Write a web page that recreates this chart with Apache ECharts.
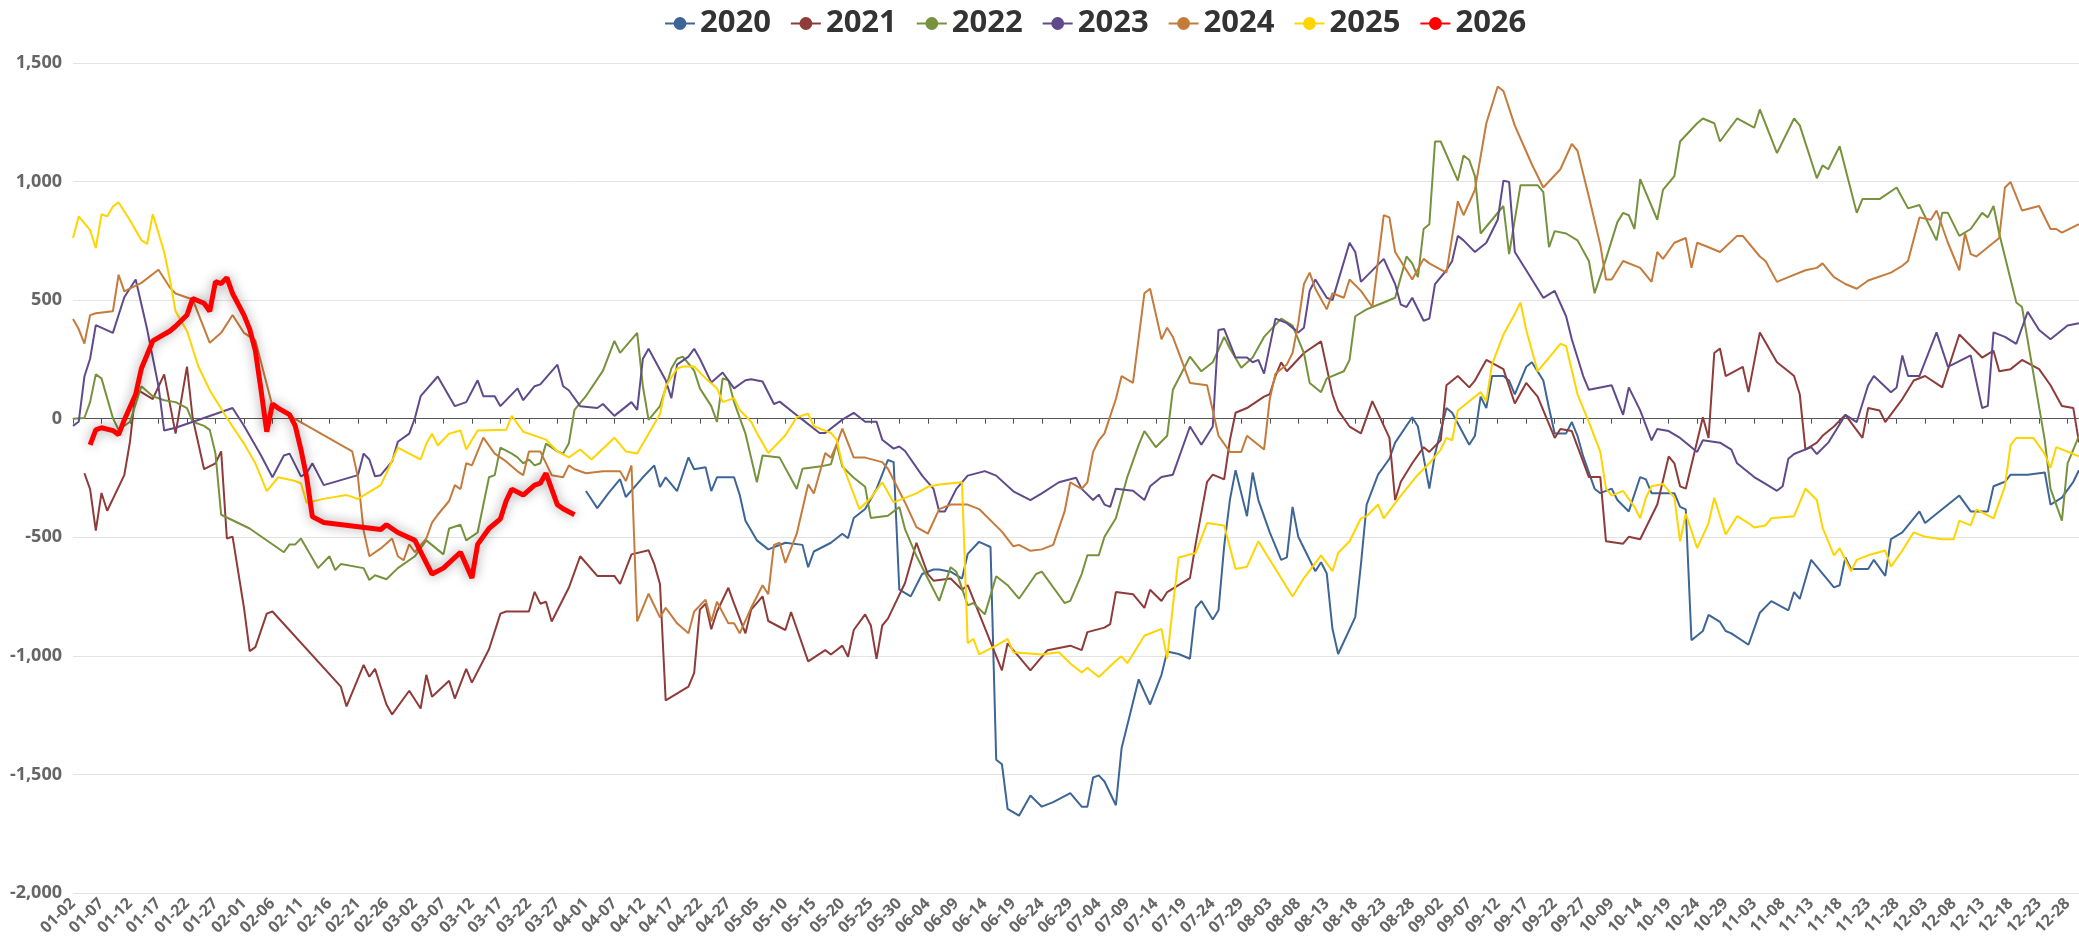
<!DOCTYPE html>
<html>
<head>
<meta charset="utf-8">
<script src="https://cdn.jsdelivr.net/npm/echarts@6/dist/echarts.min.js"></script>
<style>
  html, body { margin: 0; padding: 0; background: #fff; }
  #main { width: 2079px; height: 945px; }
</style>
</head>
<body>
<div id="main"></div>
<script>
// x axis: calendar days (mm-dd), holidays left out
const monthDays = [31, 29, 31, 30, 31, 30, 31, 31, 30, 31, 30, 30];
const skipDays = ['01-01', '04-04', '05-01', '05-02', '05-03',
  '10-01', '10-02', '10-03', '10-04', '10-05', '10-06', '10-07'];
const pad = n => (n < 10 ? '0' : '') + n;
const days = [];
monthDays.forEach((n, m) => {
  for (let d = 1; d <= n; d++) {
    const s = pad(m + 1) + '-' + pad(d);
    if (skipDays.indexOf(s) < 0) days.push(s);
  }
});

const yTicks = { min: -2000, max: 1500, step: 500 };
const years = ['2020', '2021', '2022', '2023', '2024', '2025', '2026'];
const colors = ['#3D6596', '#8E3B3A', '#76923C', '#5F4A8B', '#C47B3C', '#FFD400', '#FF0000'];

// each point: [position in days, value]
const y2020 = [[90,-305],[92,-377],[94,-313],[96,-255],[97,-330],[100,-247],[102,-197],[103,-288],[104,-247],[106,-305],[108,-163],[109,-213],[111,-205],[112,-305],[113,-247],[116,-247],[117,-322],[118,-430],[120,-513],[122,-551],[125,-523],[128,-532],[129,-626],[130,-560],[133,-523],[135,-485],[136,-504],[137,-419],[139,-381],[141,-296],[143,-174],[144,-183],[145,-721],[147,-749],[149,-655],[151,-636],[152,-636],[154,-645],[156,-674],[157,-570],[159,-519],[161,-541],[162,-1438],[163,-1457],[164,-1645],[166,-1674],[168,-1589],[170,-1636],[172,-1617],[175,-1579],[177,-1636],[178,-1636],[179,-1513],[180,-1504],[181,-1530],[183,-1630],[184,-1390],[186,-1196],[187,-1099],[189,-1205],[191,-1080],[192,-982],[194,-992],[196,-1012],[197,-798],[198,-769],[200,-847],[201,-808],[202,-537],[203,-343],[204,-217],[206,-411],[207,-227],[208,-343],[210,-479],[212,-595],[213,-585],[214,-372],[215,-498],[218,-643],[219,-605],[220,-653],[221,-886],[222,-992],[225,-837],[226,-614],[227,-362],[229,-236],[231,-169],[232,-101],[235,6],[236,-33],[238,-295],[239,-149],[241,45],[242,25],[245,-110],[246,-72],[247,93],[248,45],[249,180],[251,180],[252,161],[253,103],[255,219],[256,238],[258,161],[259,45],[260,-62],[262,-62],[263,-14],[264,-72],[265,-159],[267,-295],[268,-314],[270,-295],[271,-343],[273,-391],[275,-246],[276,-256],[277,-314],[281,-314],[282,-372],[283,-382],[284,-934],[286,-895],[287,-827],[289,-857],[290,-895],[291,-905],[294,-953],[296,-818],[298,-769],[301,-808],[302,-731],[303,-760],[305,-595],[309,-711],[310,-702],[311,-585],[312,-634],[315,-634],[316,-595],[318,-663],[319,-508],[321,-479],[322,-450],[324,-391],[325,-440],[327,-401],[331,-324],[333,-391],[336,-391],[337,-285],[339,-266],[340,-236],[343,-236],[346,-227],[347,-362],[349,-333],[351,-266],[352,-217]];

const y2021 = [[2,-230],[3,-297],[4,-472],[5,-313],[6,-388],[9,-238],[10,-97],[11,120],[12,112],[14,83],[16,187],[18,-63],[20,220],[21,3],[23,-213],[25,-188],[26,-138],[27,-505],[28,-497],[30,-797],[31,-980],[32,-963],[34,-822],[35,-813],[47,-1130],[48,-1213],[51,-1038],[52,-1088],[53,-1055],[55,-1205],[56,-1247],[59,-1147],[61,-1222],[62,-1080],[63,-1172],[66,-1105],[67,-1180],[69,-1055],[70,-1113],[73,-972],[75,-822],[76,-813],[80,-813],[81,-730],[82,-780],[83,-772],[84,-855],[87,-713],[89,-580],[92,-663],[95,-663],[96,-697],[98,-572],[101,-555],[102,-613],[103,-697],[104,-1188],[108,-1130],[109,-1072],[110,-805],[111,-780],[112,-888],[113,-813],[115,-713],[116,-780],[118,-905],[119,-805],[121,-749],[122,-853],[125,-891],[126,-815],[129,-1023],[132,-976],[133,-994],[135,-957],[136,-1004],[137,-891],[139,-825],[140,-872],[141,-1013],[142,-872],[143,-843],[146,-693],[148,-523],[150,-655],[151,-683],[154,-674],[156,-721],[157,-702],[163,-1061],[164,-947],[168,-1061],[171,-976],[175,-957],[177,-976],[178,-900],[181,-881],[182,-866],[183,-731],[186,-740],[188,-798],[189,-721],[191,-769],[192,-731],[196,-672],[197,-527],[199,-266],[200,-236],[202,-256],[203,-91],[204,25],[206,45],[209,93],[210,103],[211,180],[212,238],[213,200],[216,277],[219,326],[221,103],[222,35],[224,-33],[226,-62],[228,74],[231,-81],[232,-343],[233,-266],[235,-188],[237,-120],[238,-140],[240,-91],[241,141],[243,180],[245,132],[246,161],[248,248],[251,209],[253,64],[255,151],[257,93],[260,-81],[261,-43],[263,-52],[266,-246],[268,-246],[269,-517],[272,-527],[273,-498],[275,-508],[278,-362],[280,-159],[281,-188],[282,-285],[283,-295],[286,6],[287,-81],[288,277],[289,296],[290,180],[293,219],[294,112],[296,364],[299,238],[301,200],[302,180],[303,103],[304,-130],[306,-101],[307,-72],[309,-33],[311,16],[314,-81],[315,45],[317,35],[318,-14],[321,83],[323,161],[325,180],[328,132],[331,355],[335,258],[337,287],[338,200],[340,209],[342,248],[345,209],[347,141],[349,54],[351,45],[352,-100]];

const y2022 = [[0,0],[2,3],[3,70],[4,187],[5,170],[7,3],[8,-47],[10,-13],[12,137],[14,95],[16,78],[18,70],[20,45],[21,-13],[23,-30],[24,-47],[25,-147],[26,-405],[31,-463],[37,-563],[38,-530],[39,-530],[40,-505],[43,-630],[45,-580],[46,-638],[47,-613],[51,-630],[52,-680],[53,-660],[55,-677],[57,-630],[60,-580],[62,-513],[65,-572],[66,-463],[68,-447],[69,-513],[71,-480],[73,-247],[74,-238],[75,-122],[77,-147],[78,-163],[79,-188],[80,-172],[81,-197],[82,-188],[83,-105],[85,-138],[86,-147],[87,-105],[88,37],[90,95],[93,203],[95,328],[96,278],[99,362],[100,137],[101,-5],[103,53],[104,128],[105,212],[106,253],[107,262],[109,203],[110,128],[112,53],[113,-13],[114,170],[115,162],[116,70],[118,-63],[120,-268],[121,-155],[124,-164],[127,-296],[128,-211],[131,-202],[133,-192],[134,-108],[135,-202],[137,-249],[139,-287],[140,-419],[143,-409],[145,-372],[146,-466],[148,-579],[150,-674],[152,-768],[154,-626],[155,-645],[157,-787],[158,-777],[160,-825],[162,-664],[164,-702],[166,-759],[169,-655],[170,-645],[174,-777],[175,-768],[177,-655],[178,-576],[180,-576],[181,-498],[183,-420],[185,-246],[187,-110],[188,-52],[190,-120],[192,-72],[193,122],[195,215],[196,262],[198,200],[200,238],[202,345],[203,296],[205,215],[207,258],[209,345],[212,422],[214,393],[216,277],[217,151],[219,112],[220,170],[223,200],[224,248],[225,432],[227,461],[228,471],[230,490],[232,510],[234,684],[235,655],[236,597],[237,800],[238,820],[239,1169],[240,1169],[243,1004],[244,1110],[245,1091],[246,1023],[247,781],[249,839],[251,897],[252,694],[254,985],[257,985],[258,955],[259,723],[260,791],[262,781],[264,752],[266,665],[267,529],[269,674],[271,829],[272,868],[273,858],[274,800],[275,1010],[278,839],[279,965],[281,1023],[282,1169],[285,1246],[286,1266],[288,1246],[289,1169],[292,1266],[295,1227],[296,1304],[299,1120],[302,1266],[303,1237],[306,1014],[307,1068],[308,1052],[310,1149],[313,868],[314,926],[317,926],[320,975],[322,887],[324,901],[327,752],[328,868],[329,868],[331,771],[333,800],[335,868],[336,849],[337,897],[338,781],[341,490],[342,471],[346,-91],[347,-295],[349,-430],[350,-188],[352,-72]];

const y2023 = [[0,-30],[1,-13],[2,178],[3,253],[4,395],[7,362],[9,512],[11,587],[13,378],[15,137],[16,-50],[18,-38],[25,20],[28,45],[30,-30],[33,-155],[35,-247],[37,-155],[38,-147],[40,-243],[41,-230],[42,-188],[44,-280],[50,-238],[51,-147],[52,-172],[53,-243],[54,-238],[56,-180],[57,-97],[59,-63],[60,3],[61,95],[64,178],[67,53],[69,70],[71,162],[72,95],[74,95],[75,53],[78,128],[79,78],[81,137],[82,145],[85,228],[86,137],[87,120],[89,53],[92,45],[93,62],[95,12],[98,70],[99,37],[100,253],[101,295],[104,162],[105,87],[106,228],[108,262],[109,295],[110,253],[112,153],[114,195],[116,128],[118,162],[119,166],[121,157],[123,62],[124,72],[128,-4],[131,-60],[132,-60],[135,-4],[137,25],[139,-13],[141,-13],[142,-89],[144,-126],[145,-117],[146,-136],[149,-240],[151,-296],[152,-391],[153,-391],[155,-296],[157,-240],[160,-221],[162,-240],[165,-306],[168,-343],[170,-315],[173,-268],[176,-249],[177,-296],[179,-343],[180,-320],[181,-362],[182,-372],[183,-295],[186,-304],[188,-343],[189,-285],[191,-246],[193,-236],[196,-33],[198,-110],[200,-33],[201,374],[202,378],[204,258],[206,258],[207,238],[208,248],[209,190],[211,422],[213,403],[215,364],[216,384],[217,539],[218,587],[220,510],[221,500],[224,742],[225,703],[226,577],[230,674],[232,568],[233,481],[234,471],[235,510],[237,413],[238,422],[239,568],[241,626],[242,665],[243,771],[244,752],[246,703],[248,742],[250,839],[251,1004],[252,998],[253,703],[255,626],[258,510],[260,539],[262,432],[263,335],[265,180],[266,122],[270,141],[272,16],[273,132],[275,35],[277,-91],[278,-43],[280,-52],[282,-81],[285,-140],[286,-91],[289,-101],[291,-130],[292,-188],[295,-246],[297,-275],[299,-304],[300,-285],[301,-169],[302,-149],[305,-120],[306,-149],[308,-101],[310,-23],[311,16],[313,-14],[315,141],[316,180],[319,112],[320,132],[321,267],[322,180],[324,180],[327,364],[329,219],[333,267],[335,45],[336,54],[337,364],[339,345],[341,316],[343,451],[345,374],[347,335],[350,393],[352,403]];

const y2024 = [[0,420],[1,378],[2,317],[3,437],[4,445],[7,453],[8,607],[9,537],[12,573],[15,628],[17,553],[18,528],[21,503],[24,320],[26,362],[28,437],[30,362],[32,330],[35,53],[49,-138],[50,-247],[51,-472],[52,-580],[54,-547],[56,-505],[57,-580],[58,-597],[59,-530],[60,-563],[62,-505],[63,-438],[64,-405],[66,-347],[67,-280],[68,-297],[69,-188],[70,-197],[72,-80],[74,-147],[76,-180],[78,-222],[79,-238],[80,-138],[82,-138],[84,-238],[86,-247],[87,-197],[88,-213],[90,-230],[93,-222],[96,-222],[97,-263],[98,-197],[99,-855],[101,-738],[103,-838],[104,-797],[106,-863],[108,-905],[109,-813],[111,-763],[112,-855],[113,-772],[115,-863],[116,-863],[117,-905],[119,-797],[121,-702],[122,-740],[123,-532],[124,-523],[125,-608],[127,-485],[129,-277],[130,-315],[132,-145],[133,-164],[134,-108],[135,-42],[137,-164],[139,-164],[142,-183],[143,-211],[146,-353],[148,-457],[150,-485],[152,-381],[154,-362],[157,-362],[159,-381],[163,-476],[165,-538],[166,-532],[168,-557],[170,-551],[172,-532],[174,-391],[175,-268],[177,-296],[178,-268],[179,-140],[180,-91],[181,-62],[183,83],[184,180],[186,151],[188,529],[189,548],[191,335],[192,384],[193,345],[196,151],[199,141],[200,35],[201,-72],[203,-140],[205,-140],[206,-72],[209,-130],[210,83],[211,190],[213,229],[214,277],[215,403],[216,568],[217,616],[218,548],[220,461],[221,529],[223,510],[224,587],[226,539],[228,471],[230,858],[231,849],[232,703],[234,626],[235,587],[237,674],[238,655],[241,616],[243,917],[244,858],[246,965],[248,1246],[250,1401],[251,1382],[253,1236],[256,1072],[258,975],[261,1052],[263,1159],[264,1130],[266,936],[268,733],[269,587],[270,587],[272,665],[275,636],[277,577],[278,703],[279,674],[281,742],[283,762],[284,636],[285,742],[287,723],[289,703],[292,771],[293,771],[296,684],[297,665],[299,577],[301,597],[304,626],[306,636],[307,655],[309,597],[311,568],[313,548],[315,583],[319,616],[321,645],[322,665],[324,849],[326,839],[327,878],[329,742],[331,626],[332,781],[333,694],[334,684],[336,723],[338,762],[339,975],[340,998],[342,878],[345,897],[347,800],[348,800],[349,785],[352,820]];

const y2025 = [[0,762],[1,853],[3,795],[4,720],[5,862],[6,853],[7,895],[8,912],[10,837],[12,753],[13,737],[14,862],[16,703],[17,587],[18,453],[20,370],[22,220],[24,120],[27,3],[30,-105],[32,-188],[34,-305],[36,-247],[39,-263],[40,-272],[41,-355],[44,-338],[48,-322],[50,-338],[54,-280],[55,-230],[57,-122],[59,-147],[61,-172],[62,-105],[63,-63],[64,-113],[66,-63],[68,-50],[69,-130],[71,-50],[76,-47],[77,12],[79,-55],[83,-88],[85,-138],[87,-163],[89,-130],[91,-172],[95,-80],[97,-138],[99,-147],[101,-63],[103,20],[104,137],[106,212],[107,220],[109,220],[111,170],[113,128],[114,70],[116,87],[117,37],[119,-13],[120,-60],[122,-145],[125,-70],[127,6],[129,21],[130,-32],[133,-60],[134,-89],[135,-192],[138,-381],[140,-334],[142,-268],[144,-353],[148,-315],[150,-287],[152,-277],[156,-268],[157,-947],[158,-928],[159,-994],[162,-957],[164,-928],[165,-985],[170,-994],[173,-985],[175,-1032],[177,-1070],[178,-1050],[180,-1089],[183,-1021],[184,-1002],[185,-1031],[188,-915],[191,-886],[192,-1012],[193,-789],[194,-585],[197,-566],[199,-440],[202,-450],[204,-634],[206,-624],[208,-517],[210,-595],[214,-750],[216,-672],[219,-576],[221,-643],[222,-566],[224,-517],[226,-420],[227,-411],[229,-362],[230,-420],[233,-324],[236,-236],[238,-188],[240,-130],[241,-81],[242,-91],[243,35],[245,74],[247,112],[248,74],[249,229],[251,355],[253,442],[254,490],[255,374],[257,200],[259,258],[261,316],[262,306],[264,103],[266,-14],[268,-140],[269,-295],[270,-324],[272,-304],[274,-372],[275,-420],[276,-333],[277,-285],[279,-275],[281,-333],[282,-517],[283,-401],[285,-546],[287,-440],[288,-333],[290,-488],[292,-411],[294,-440],[295,-459],[297,-450],[298,-420],[302,-411],[304,-295],[306,-343],[307,-459],[309,-576],[310,-546],[312,-643],[313,-595],[315,-576],[318,-556],[319,-624],[321,-556],[323,-479],[325,-498],[328,-508],[330,-508],[331,-430],[333,-450],[334,-382],[337,-420],[339,-285],[340,-110],[341,-81],[344,-81],[346,-149],[347,-207],[348,-120],[351,-149],[352,-159]];

const y2026 = [[3,-110],[4,-47],[5,-38],[7,-50],[8,-67],[9,-5],[11,103],[12,212],[14,328],[17,370],[18,390],[20,437],[21,507],[23,487],[24,453],[25,578],[26,570],[27,595],[28,528],[30,437],[31,378],[32,287],[33,120],[34,-55],[35,62],[36,45],[38,17],[39,-30],[40,-130],[41,-247],[42,-413],[44,-438],[54,-467],[55,-447],[57,-480],[60,-513],[63,-655],[65,-630],[68,-563],[70,-672],[71,-530],[73,-463],[75,-422],[76,-347],[77,-297],[79,-322],[81,-280],[82,-272],[83,-230],[84,-297],[85,-363],[86,-380],[88,-405]];

const seriesData = [y2020, y2021, y2022, y2023, y2024, y2025, y2026];

const chart = echarts.init(document.getElementById('main'));

const series = years.map((name, i) => {
  const last = i === years.length - 1;
  return {
    name: name,
    type: 'line',
    data: seriesData[i],
    symbol: 'circle',
    symbolSize: 10,
    showSymbol: false,
    z: last ? 10 : 2,
    itemStyle: { color: colors[i] },
    lineStyle: last
      ? { color: colors[i], width: 5, shadowColor: 'rgba(0,0,0,0.4)', shadowBlur: 12 }
      : { color: colors[i], width: 2 }
  };
});

chart.setOption({
  animation: false,
  backgroundColor: '#fff',
  legend: {
    top: 3,
    left: 659,
    itemWidth: 30,
    itemHeight: 16,
    itemGap: 19,
    textStyle: { fontSize: 31, fontWeight: 'bold', color: '#333', fontFamily: 'Open Sans' },
    data: years
  },
  grid: { left: 73, right: 0, top: 63, bottom: 52 },
  xAxis: [{
    type: 'category',
    data: days,
    boundaryGap: false,
    axisLine: { onZero: true, lineStyle: { color: '#555', width: 1 } },
    axisTick: { show: true, interval: 4, length: 5, lineStyle: { color: '#555' } },
    axisLabel: { show: false },
    splitLine: { show: false }
  }, {
    type: 'category',
    data: days,
    boundaryGap: false,
    position: 'bottom',
    axisLine: { show: false, onZero: false },
    axisTick: { show: false },
    splitLine: { show: false },
    axisLabel: {
      interval: 4, rotate: 45, margin: 8,
      fontSize: 16, fontWeight: 'bold', color: '#666', fontFamily: 'Open Sans'
    }
  }],
  yAxis: {
    type: 'value',
    min: yTicks.min,
    max: yTicks.max,
    interval: yTicks.step,
    axisLine: { show: false },
    axisTick: { show: false },
    splitLine: { lineStyle: { color: '#e3e3e3' } },
    axisLabel: {
      margin: 11, fontSize: 18, fontWeight: 'bold', color: '#666', fontFamily: 'Open Sans',
      formatter: v => v.toLocaleString('en-US')
    }
  },
  series: series
});
</script>
</body>
</html>
